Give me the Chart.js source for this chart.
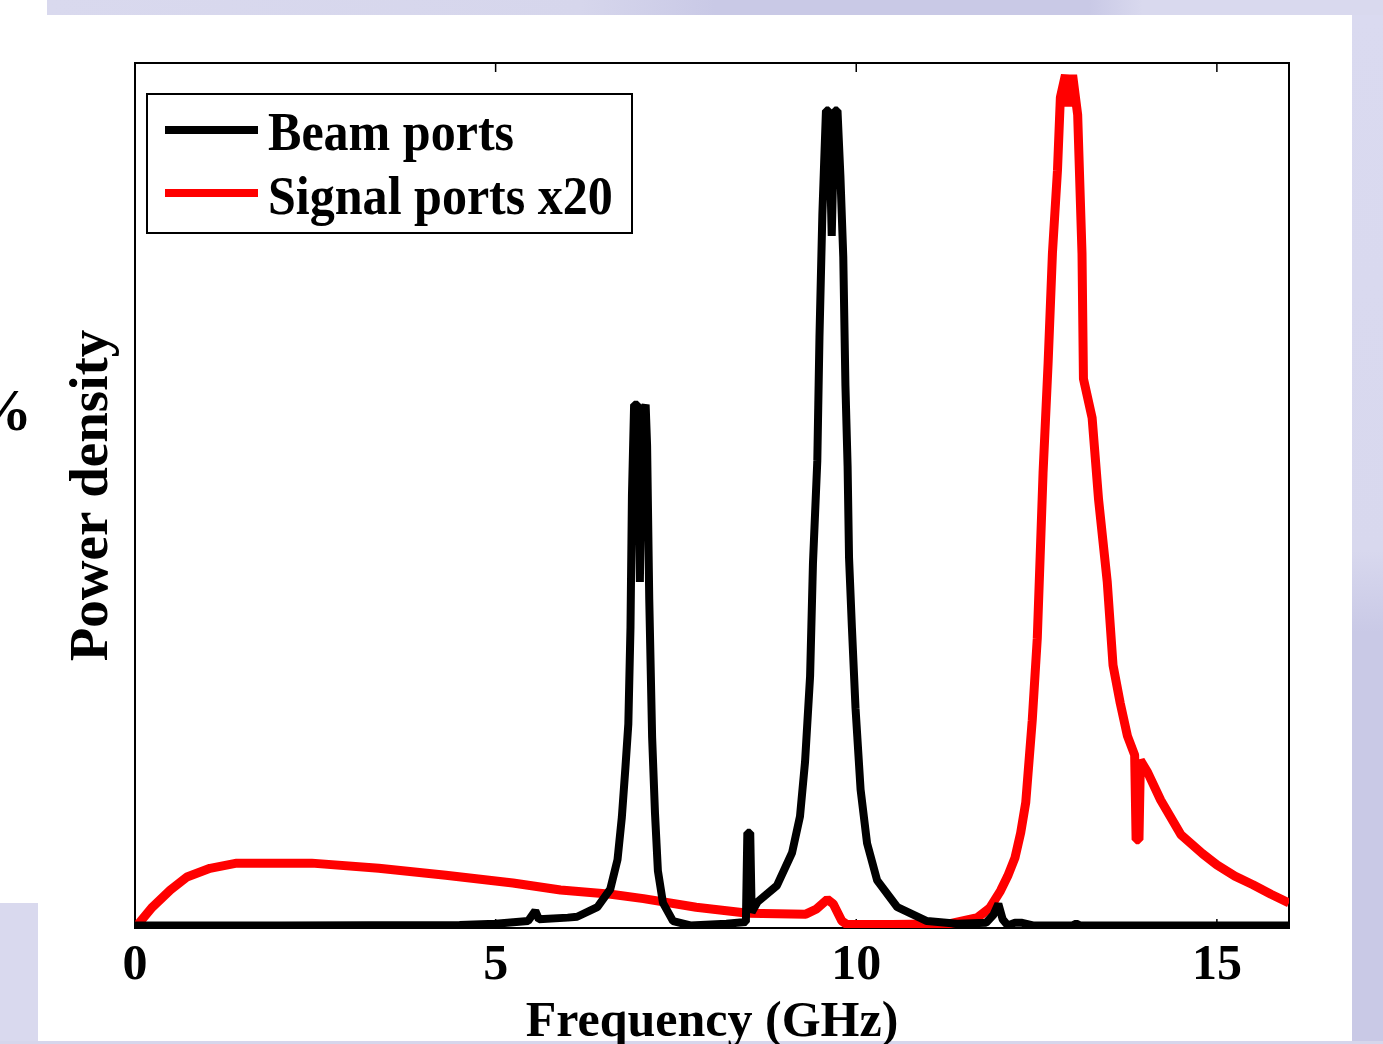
<!DOCTYPE html>
<html>
<head>
<meta charset="utf-8">
<title>Power density</title>
<script src="https://cdn.jsdelivr.net/npm/chart.js@4.4.1/dist/chart.umd.min.js"></script>
<style>
  body { margin: 0; width: 1383px; height: 1044px; overflow: hidden; background: #fff; position: relative; font-family: "Liberation Serif", serif; }
  #band { position: absolute; left: 47px; top: 0; width: 1336px; height: 15px; background: linear-gradient(to right, #d9d9ee 0%, #d6d6ec 40%, #c9c9e6 50%, #c9c9e6 78%, #d9d9ee 82%); }
  #strip { position: absolute; left: 1352px; top: 15px; width: 31px; height: 1029px; background: linear-gradient(to bottom, #dadaf0 0%, #d8d8ee 52%, #c9c9e6 60%, #c9c9e6 100%); }
  #block { position: absolute; left: 0; top: 903px; width: 38px; height: 141px; background: #d9d9ee; }
  #bottomline { position: absolute; left: 0; top: 1041px; width: 1383px; height: 3px; background: #d6d6ec; }
  #pct { position: absolute; left: -28px; top: 380px; font: bold 60px/60px "Liberation Serif", serif; color: #000; }
  canvas { position: absolute; left: 0; top: 0; }
</style>
</head>
<body>
<div id="band"></div>
<div id="strip"></div>
<div id="block"></div>
<div id="bottomline"></div>
<div id="pct">%</div>
<canvas id="graf" width="1383" height="1044"></canvas>

<script>
// Värden (frekvens i GHz, effekt i godtycklig skala 0-100)
const beamFreq = [
  0, 2.0, 4.5, 5.0, 5.45, 5.55, 5.6, 6.0, 6.13, 6.41,
  6.59, 6.69, 6.75, 6.8, 6.84, 6.87, 6.89, 6.92, 6.97, 7.0,
  7.03, 7.08, 7.1, 7.13, 7.17, 7.21, 7.25, 7.32, 7.46, 7.7,
  8.2, 8.47, 8.49, 8.53, 8.55, 8.63, 8.9, 9.11, 9.22, 9.29,
  9.36, 9.4, 9.46, 9.49, 9.53, 9.58, 9.62, 9.66, 9.7, 9.74,
  9.78, 9.82, 9.85, 9.88, 9.9, 9.94, 9.99, 10.06, 10.15, 10.29,
  10.57, 10.98, 11.4, 11.8, 11.9, 11.97, 12.03, 12.1, 12.2, 12.3,
  12.45, 12.55, 13.0, 13.05, 13.1, 16
];
const beamPower = [
  0.3, 0.3, 0.35, 0.5, 0.8, 2.0, 1.0, 1.2, 1.3, 2.4,
  4.5, 7.9, 12.8, 18.6, 23.6, 34.8, 50, 60.5, 60.5, 40,
  59, 60.5, 55.8, 38, 22, 13.2, 6.6, 2.9, 0.8, 0.3,
  0.5, 0.7, 11, 11, 1.8, 3.0, 4.9, 8.7, 12.9, 19.2,
  29.1, 42.2, 54, 68.3, 82.5, 94.5, 94.5, 80, 94.5, 94.5,
  87, 77.6, 62.7, 53.4, 42.8, 34.7, 25.4, 16, 9.8, 5.5,
  2.4, 0.8, 0.5, 0.6, 1.5, 2.8, 1.0, 0.3, 0.6, 0.6,
  0.3, 0.3, 0.3, 0.5, 0.3, 0.3
];

const signalFreq = [
  0, 0.24, 0.49, 0.72, 1.04, 1.41, 2.45, 3.38, 4.31, 5.24,
  5.9, 6.6, 7.05, 7.78, 8.5, 9.3, 9.45, 9.6, 9.68, 9.8,
  9.87, 10.5, 11.3, 11.68, 11.85, 12.0, 12.1, 12.2, 12.28, 12.35,
  12.44, 12.51, 12.55, 12.59, 12.66, 12.72, 12.79, 12.83, 12.9, 12.95,
  13.0, 13.07, 13.13, 13.15, 13.27, 13.36, 13.48, 13.56, 13.66, 13.76,
  13.86, 13.88, 13.92, 13.94, 14.04, 14.22, 14.5, 14.8, 15.0, 15.25,
  15.5, 15.75, 16.0
];
const signalPower = [
  0, 2.4, 4.4, 5.9, 6.9, 7.5, 7.5, 6.9, 6.1, 5.2,
  4.4, 3.9, 3.4, 2.4, 1.7, 1.6, 2.2, 3.3, 2.8, 0.8,
  0.4, 0.4, 0.5, 1.2, 2.3, 4.3, 6.0, 8.1, 11, 14.5,
  24, 33.5, 43, 52.6, 65.3, 78, 87.6, 96, 98.6, 95,
  98.6, 94, 78, 63.5, 59, 49.5, 40, 30.4, 26, 22.2,
  20, 10.2, 10.2, 19.4, 18, 14.8, 10.8, 8.6, 7.3, 6.0,
  5.0, 3.9, 2.9
];

const xTicks = [0, 5, 10, 15];
const seriesNames = ['Beam ports', 'Signal ports x20'];

const serif = '"Liberation Serif", "Times New Roman", serif';

// ram runt diagrammet + små tickar inåt (upp och ner)
const ramPlugin = {
  id: 'ram',
  beforeDatasetsDraw(chart) {
    const { ctx, chartArea: a, scales: { x } } = chart;
    ctx.save();
    ctx.strokeStyle = '#000';
    ctx.lineWidth = 2;
    ctx.strokeRect(a.left, a.top, a.right - a.left, a.bottom - a.top);
    ctx.lineWidth = 1.5;
    xTicks.forEach(v => {
      const px = x.getPixelForValue(v);
      ctx.beginPath();
      ctx.moveTo(px, a.top);
      ctx.lineTo(px, a.top + 9);
      ctx.moveTo(px, a.bottom);
      ctx.lineTo(px, a.bottom - 9);
      ctx.stroke();
    });
    ctx.restore();
  }
};

// legenden i en ruta uppe till vänster
const rutaPlugin = {
  id: 'ruta',
  afterDraw(chart) {
    const { ctx, chartArea: a } = chart;
    const bx = a.left + 12, by = a.top + 31, bw = 485, bh = 139;
    ctx.save();
    ctx.fillStyle = '#fff';
    ctx.fillRect(bx, by, bw, bh);
    ctx.strokeStyle = '#000';
    ctx.lineWidth = 2;
    ctx.strokeRect(bx, by, bw, bh);
    chart.data.datasets.forEach((ds, i) => {
      const y = by + 36 + i * 63;
      ctx.strokeStyle = ds.borderColor;
      ctx.lineWidth = 8;
      ctx.beginPath();
      ctx.moveTo(bx + 18, y);
      ctx.lineTo(bx + 111, y);
      ctx.stroke();
      ctx.save();
      ctx.translate(bx + 121, y + 20 + i);
      ctx.scale(0.91, 1);
      ctx.fillStyle = '#000';
      ctx.font = 'bold 55px ' + serif;
      ctx.fillText(ds.label, 0, 0);
      ctx.restore();
    });
    ctx.restore();
  }
};

const ctx = document.getElementById('graf').getContext('2d');

const data = {
  datasets: [
    {
      label: seriesNames[0],
      data: beamFreq.map((f, i) => ({ x: f, y: beamPower[i] })),
      borderColor: '#000000',
      borderWidth: 8
    },
    {
      label: seriesNames[1],
      data: signalFreq.map((f, i) => ({ x: f, y: signalPower[i] })),
      borderColor: '#ff0000',
      borderWidth: 9
    }
  ]
};

const config = {
  type: 'line',
  data: data,
  options: {
    responsive: false,
    animation: false,
    devicePixelRatio: 1,
    layout: { padding: { left: 0, top: 63, right: 94, bottom: 0 } },
    plugins: {
      legend: { display: false },
      tooltip: { enabled: false }
    },
    elements: {
      point: { radius: 0 },
      line: { tension: 0, borderJoinStyle: 'bevel', fill: false }
    },
    scales: {
      x: {
        type: 'linear',
        min: 0,
        max: 16,
        afterBuildTicks: s => { s.ticks = xTicks.map(v => ({ value: v })); },
        afterFit: s => { s.height = 116; },
        grid: { display: false, drawTicks: false },
        border: { display: false },
        ticks: {
          color: '#000',
          padding: 8,
          maxRotation: 0,
          autoSkip: false,
          font: { family: serif, size: 50, weight: 'bold', lineHeight: 1.2 }
        },
        title: {
          display: true,
          text: 'Frequency (GHz)',
          color: '#000',
          padding: 0,
          font: { family: serif, size: 50, weight: 'bold', lineHeight: 0.82 }
        }
      },
      y: {
        min: 0,
        max: 100,
        afterFit: s => { s.width = 135; },
        grid: { display: false, drawTicks: false },
        border: { display: false },
        ticks: { display: false },
        title: {
          display: true,
          text: 'Power density',
          color: '#000',
          padding: { top: 60, bottom: 0 },
          font: { family: serif, size: 55, weight: 'bold', lineHeight: 1.2 }
        }
      }
    }
  },
  plugins: [ramPlugin, rutaPlugin]
};

let graf = new Chart(ctx, config);
</script>
</body>
</html>
